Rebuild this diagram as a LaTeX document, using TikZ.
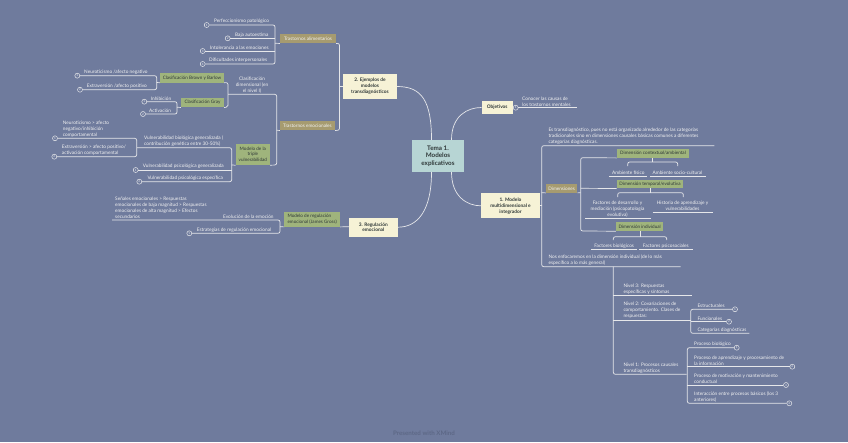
\documentclass[tikz,border=0pt]{standalone}
\usepackage{fontspec}
\setmainfont{Lato}
\usetikzlibrary{calc}
\definecolor{bg}{HTML}{6F7B9D}
\definecolor{linec}{HTML}{E6E7EA}
\definecolor{labc}{HTML}{F2F2F2}
\definecolor{tanc}{HTML}{A69B70}
\definecolor{greenc}{HTML}{9FB47C}
\definecolor{creamc}{HTML}{F6F2D6}
\definecolor{tealc}{HTML}{B7D5D4}
\definecolor{darkt}{HTML}{2F3838}
\definecolor{footc}{HTML}{5D6886}
\begin{document}
\begin{tikzpicture}[x=1pt,y=-1pt,
  conn/.style={draw=linec,line width=0.7pt,rounded corners=2pt},
  lbl/.style={font=\fontsize{4.75}{5.9}\selectfont,text=labc,inner sep=0,align=left,anchor=south west},
  clbl/.style={lbl,align=center,anchor=south},
  numcirc/.style={circle,draw=linec,line width=0.5pt,fill=bg,inner sep=0,minimum size=5pt,font=\fontsize{3}{3}\selectfont,text=labc},
  tanbox/.style={fill=tanc,text=labc,font=\fontsize{4.7}{5.8}\selectfont,inner sep=0,align=center},
  greenbox/.style={fill=greenc,text=darkt,font=\fontsize{4.6}{5.8}\selectfont,inner sep=0,align=center},
  creambox/.style={fill=creamc,text=darkt,font=\fontsize{4.8}{5.9}\selectfont\bfseries,inner sep=0,align=center}]
\fill[bg] (0,0) rectangle (848,442);
\useasboundingbox (0,0) rectangle (848,442);

% central
\node[fill=tealc,text=darkt,font=\fontsize{6.3}{7.6}\selectfont\bfseries,align=center,minimum width=52pt,minimum height=32pt,inner sep=0] (c) at (438,156) {Tema 1.\\Modelos\\explicativos};

% main topics
\node[creambox,minimum width=54pt,minimum height=25pt] (n2) at (370,86.5) {2. Ejemplos de\\modelos\\transdiagnósticos};
\node[creambox,minimum width=31pt,minimum height=13.6pt] (ob) at (497.2,107.5) {Objetivos};
\node[creambox,minimum width=59pt,minimum height=25pt] (n1) at (510.5,205.8) {1. Modelo\\multidimensional e\\integrador};
\node[creambox,minimum width=48.7pt,minimum height=19pt] (n3) at (373.35,227.2) {3. Regulación\\emocional};

\draw[conn] ($(c.north)+(-6.5,0)$) .. controls +(0,-38) and +(25,0) .. (n2.east);
\draw[conn] ($(c.north)+(13.5,0)$) .. controls +(0,-24) and +(-14,0) .. (ob.west);
\draw[conn] ($(c.south)+(-6.5,0)$) .. controls +(0,38) and +(20,0) .. (n3.east);
\draw[conn] ($(c.south)+(13.5,0)$) .. controls +(0,24) and +(-14,0) .. (n1.west);

% ---------- branch 2 ----------
\node[tanbox,minimum width=56pt,minimum height=9.5pt] (ta) at (308,38.5) {Trastornos alimentarios};
\node[tanbox,minimum width=55pt,minimum height=9.5pt] (te) at (307.5,125.5) {Trastornos emocionales};
\draw[conn] (ta.south east) -- (339.5,43.25) -- (339.5,130.25) -- (te.south east);
\draw[conn] (n2.west) -- (339.5,86.5);

\node[numcirc] (a1) at (206.7,25) {1};
\node[numcirc] (a2) at (227.7,38.3) {2};
\node[numcirc] (a3) at (202.7,51) {3};
\node[numcirc] (a4) at (202.7,64) {4};
\node[lbl] (la1) at (214,23.8) {Perfeccionismo patológico};
\node[lbl] (la2) at (235,37.1) {Baja autoestima};
\node[lbl] (la3) at (210,49.8) {Intolerancia a las emociones};
\node[lbl] (la4) at (209,62.8) {Dificultades interpersonales};
\draw[conn] (a1.east) -- (275,25) -- (275,64) -- (a4.east);
\draw[conn] (a2.east) -- (275,38.3);
\draw[conn] (a3.east) -- (275,51);
\draw[conn] (275,43.25) -- (ta.south west);

\node[clbl] (cd) at (252,93) {Clasificación\\dimensional (en\\el nivel I)};
\node[greenbox,minimum width=64pt,minimum height=9.5pt] (bb) at (192,77.75) {Clasificación Brown y Barlow};
\node[greenbox,minimum width=43pt,minimum height=9.5pt] (gr) at (202.5,102.5) {Clasificación Gray};
\node[greenbox,minimum width=34.3pt,minimum height=21.5pt] (tv) at (252.85,154.25) {Modelo de la\\triple\\vulnerabilidad};
\draw[conn] (228,94.3) -- (276.7,94.3) -- (276.7,165) -- (tv.south east);
\draw[conn] (te.south west) -- (276.7,130.25);
\draw[conn] (bb.south east) -- (228,82.5) -- (228,107.25) -- (gr.south east);

\node[numcirc] (b1) at (77.3,75.7) {1};
\node[numcirc] (b2) at (80,89.7) {2};
\node[lbl] (lb1) at (84,74.5) {Neuroticismo /afecto negativo};
\node[lbl] (lb2) at (86.7,88.5) {Extraversión /afecto positivo};
\draw[conn] (b1.east) -- (156.7,75.7) -- (156.7,89.7) -- (b2.east);
\draw[conn] (156.7,82.5) -- (bb.south west);

\node[numcirc] (g1) at (144.3,101.7) {1};
\node[numcirc] (g2) at (143,114) {2};
\node[lbl] (lg1) at (150.7,100.5) {Inhibición};
\node[lbl] (lg2) at (149,112.8) {Activación};
\draw[conn] (g1.east) -- (177,101.7) -- (177,114) -- (g2.east);
\draw[conn] (177,107.25) -- (gr.south west);

\node[lbl] (vb) at (144,146.5) {Vulnerabilidad biológica generalizada (\\contribución genética entre 30-50\%)};
\node[numcirc] (v2c) at (135.7,170) {1};
\node[numcirc] (v3c) at (139.3,181.7) {2};
\node[lbl] (v2) at (142.7,168.8) {Vulnerabilidad psicológica generalizada};
\node[lbl] (v3) at (147.3,180.5) {Vulnerabilidad psicológica específica};
\draw[conn] (137,147.7) -- (231.7,147.7) -- (231.7,181.7) -- (v3c.east);
\draw[conn] (v2c.east) -- (231.7,170);
\draw[conn] (231.7,165) -- (tv.south west);

\node[numcirc] (s1) at (55,138.3) {1};
\node[numcirc] (s2) at (54.3,156.7) {2};
\node[lbl] (ls1) at (62.7,137.1) {Neuroticismo > afecto\\negativo/inhibición\\comportamental};
\node[lbl] (ls2) at (61.7,155.5) {Extraversión > afecto positivo/\\activación comportamental};
\draw[conn] (s1.east) -- (136.7,138.3) -- (136.7,156.7) -- (s2.east);

% ---------- branch 3 ----------
\node[greenbox,minimum width=55.7pt,minimum height=14.4pt,align=left] (mr) at (312.15,219.5) {Modelo de regulación\\emocional (James Gross)};
\draw[conn] (mr.south east) -- (349,226.7);
\node[lbl] (ev) at (223,218.8) {Evolución de la emoción};
\node[lbl] (se) at (115,218.8) {Señales emocionales > Respuestas\\emocionales de baja magnitud > Respuestas\\emocionales de alta magnitud > Efectos\\secundarios};
\node[numcirc] (erc) at (189.3,233.3) {1};
\node[lbl] (er) at (196.7,232.1) {Estrategias de regulación emocional};
\draw[conn] (112,220) -- (280,220) -- (280,233.3) -- (erc.east);
\draw[conn] (280,226.7) -- (mr.south west);

% ---------- objetivos ----------
\node[numcirc] (oc) at (515.7,107.7) {1};
\draw[conn] (ob.east) -- (oc.west);
\draw[conn] (oc.east) -- (576.7,107.7);
\node[lbl] (lo) at (522,106.5) {Conocer las causas de\\los trastornos mentales};

% ---------- branch 1 ----------
\node[lbl] (et) at (548.3,144.5) {Es transdiagnóstico, pues no está organizado alrededor de las categorías\\tradicionales sino en dimensiones causales básicas comunes a diferentes\\categorías diagnósticas.};
\node[lbl] (ne) at (548.3,265.5) {Nos enfocaremos en la dimensión individual (de lo más\\específico a lo más general)};
\draw[conn] (714.3,145.7) -- (541.7,145.7) -- (541.7,266.7) -- (680.7,266.7);
\draw[conn] (n1.east) -- (541.7,205.8);
\node[tanbox,minimum width=31.3pt,minimum height=8.7pt] (dm) at (561.65,188.35) {Dimensiones};
\draw[conn] (541.7,192.7) -- (dm.south west);

\node[greenbox,minimum width=72.6pt,minimum height=8.7pt] (dc) at (653,153.35) {Dimensión contextual/ambiental};
\node[greenbox,minimum width=66.6pt,minimum height=8.3pt] (dt) at (650,184.15) {Dimensión temporal/evolutiva};
\node[greenbox,minimum width=47.3pt,minimum height=8.7pt] (di) at (639.65,226.65) {Dimensión individual};
\draw[conn] (dc.south west) -- (580.7,157.7) -- (580.7,231) -- (di.south west);
\draw[conn] (dm.south east) -- (580.7,192.7);
\draw[conn] (580.7,188.3) -- (dt.south west);

\draw[conn] (652.7,157.7) -- (652.7,162);
\draw[conn] (627.7,166) -- (627.7,162) -- (677.7,162) -- (677.7,166);
\node[clbl] (af) at (628.3,174.8) {Ambiente físico};
\node[clbl] (as) at (677.5,174.8) {Ambiente socio-cultural};
\draw[conn] (609,176) -- (646.7,176);
\draw[conn] (650,176) -- (705.7,176);

\draw[conn] (650,188.3) -- (650,192.7);
\draw[conn] (617.7,197) -- (617.7,192.7) -- (683.3,192.7) -- (683.3,197);
\node[clbl] (fd) at (617.5,217.1) {Factores de desarrollo y\\mediación (psicopatología\\evolutiva)};
\node[clbl] (ha) at (682.5,211.1) {Historia de aprendizaje y\\vulnerabilidades};
\draw[conn] (585,218.3) -- (650.7,218.3);
\draw[conn] (652.7,212.3) -- (712.7,212.3);

\draw[conn] (640,231) -- (640,236.7);
\draw[conn] (613.3,240) -- (613.3,236.7) -- (666.7,236.7) -- (666.7,240);
\node[clbl] (fb) at (614.2,248.1) {Factores biológicos};
\node[clbl] (fp) at (665.8,248.1) {Factores psicosociales};
\draw[conn] (591,249.3) -- (637.3,249.3);
\draw[conn] (639.3,249.3) -- (692.7,249.3);

% niveles
\draw[conn] (613.3,266.7) -- (613.3,374.3) -- (686.7,374.3);
\draw[conn] (613.3,295.3) -- (691.7,295.3);
\draw[conn] (613.3,320) -- (690.7,320);
\node[lbl] (nv3) at (623.3,294.1) {Nivel 3: Respuestas\\específicas y síntomas};
\node[lbl] (nv2) at (623.3,318.8) {Nivel 2: Covariaciones de\\comportamiento. Clases de\\respuestas:};
\node[lbl] (nv1) at (623.3,373.1) {Nivel 1: Procesos causales\\transdiagnósticos};

\node[numcirc] (e1c) at (735,309.3) {1};
\node[numcirc] (f1c) at (729,321.7) {2};
\node[lbl] (es) at (697.3,308.1) {Estructurales};
\node[lbl] (fu) at (697.3,320.5) {Funcionales};
\node[lbl] (cg) at (697.3,332.1) {Categorías diagnósticas};
\draw[conn] (e1c.west) -- (690.7,309.3) -- (690.7,333.3) -- (749.3,333.3);
\draw[conn] (690.7,321.7) -- (f1c.west);

\node[numcirc] (p1c) at (736.7,347.7) {1};
\node[numcirc] (p2c) at (792.3,366.7) {2};
\node[numcirc] (p3c) at (786,385) {3};
\node[numcirc] (p4c) at (789.3,403.3) {4};
\node[lbl] (pb) at (694,346.5) {Proceso biológico};
\node[lbl] (pa) at (694,365.5) {Proceso de aprendizaje y procesamiento de\\la información};
\node[lbl] (pm) at (694,383.8) {Proceso de motivación y mantenimiento\\conductual};
\node[lbl] (pi) at (694,402.1) {Interacción entre procesos básicos (los 3\\anteriores)};
\draw[conn] (p1c.west) -- (687.3,347.7) -- (687.3,403.3) -- (p4c.west);
\draw[conn] (687.3,366.7) -- (p2c.west);
\draw[conn] (687.3,385) -- (p3c.west);

\node[font=\fontsize{6.2}{7}\selectfont\bfseries,text=footc,inner sep=0] (ft) at (424,433.5) {Presented with XMind};
\end{tikzpicture}
\end{document}
